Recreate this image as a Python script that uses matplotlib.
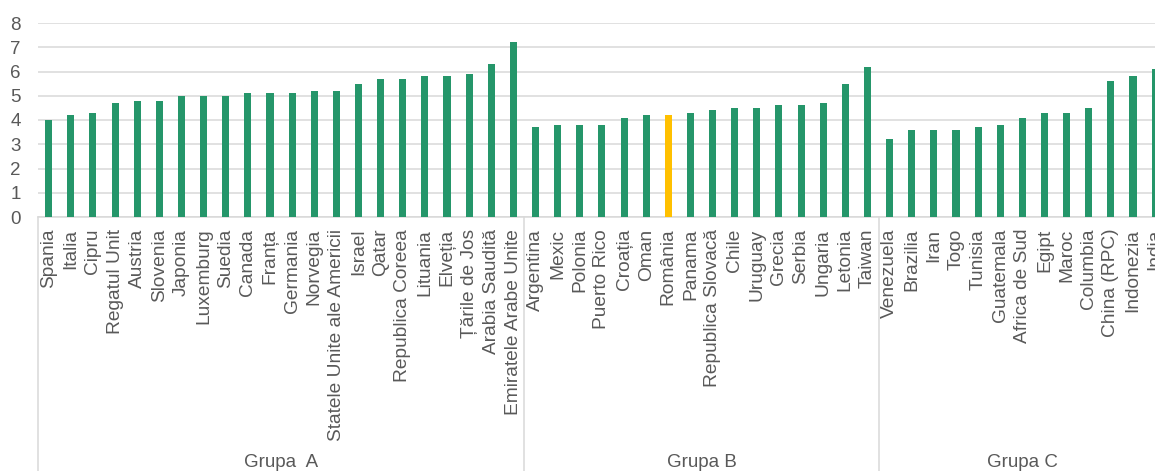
import matplotlib
matplotlib.use('Agg')
import matplotlib.pyplot as plt

plt.rcParams['font.family'] = ['Liberation Sans', 'DejaVu Sans']

grupa_a = ['Spania', 'Italia', 'Cipru', 'Regatul Unit', 'Austria', 'Slovenia', 'Japonia',
           'Luxemburg', 'Suedia', 'Canada', 'Franța', 'Germania', 'Norvegia',
           'Statele Unite ale Americii', 'Israel', 'Qatar', 'Republica Coreea', 'Lituania',
           'Elveția', 'Țările de Jos', 'Arabia Saudită', 'Emiratele Arabe Unite']
valori_a = [4.0, 4.2, 4.3, 4.7, 4.8, 4.8, 5.0, 5.0, 5.0, 5.1, 5.1, 5.1, 5.2, 5.2, 5.5,
            5.7, 5.7, 5.8, 5.8, 5.9, 6.3, 7.2]

grupa_b = ['Argentina', 'Mexic', 'Polonia', 'Puerto Rico', 'Croația', 'Oman', 'România',
           'Panama', 'Republica Slovacă', 'Chile', 'Uruguay', 'Grecia', 'Serbia', 'Ungaria',
           'Letonia', 'Taiwan']
valori_b = [3.7, 3.8, 3.8, 3.8, 4.1, 4.2, 4.2, 4.3, 4.4, 4.5, 4.5, 4.6, 4.6, 4.7, 5.5, 6.2]

grupa_c = ['Venezuela', 'Brazilia', 'Iran', 'Togo', 'Tunisia', 'Guatemala', 'Africa de Sud',
           'Egipt', 'Maroc', 'Columbia', 'China (RPC)', 'Indonezia', 'India']
valori_c = [3.2, 3.6, 3.6, 3.6, 3.7, 3.8, 4.1, 4.3, 4.3, 4.5, 5.6, 5.8, 6.1]

grupe = ['Grupa  A', 'Grupa B', 'Grupa C']
evidentiat = 'România'

tari = grupa_a + grupa_b + grupa_c
valori = valori_a + valori_b + valori_c
culori = ['#FFC000' if t == evidentiat else '#25966A' for t in tari]

W, H = 1155, 471
fig = plt.figure(figsize=(W / 100, H / 100), dpi=100)
# axa continua dincolo de marginea dreapta (imaginea e taiata, ca in original)
x0 = 37.6
pas = 22.13
ax = fig.add_axes([x0 / W, (H - 217) / H, (len(tari) * pas) / W, 194 / H])

x = list(range(len(tari)))
ax.bar(x, valori, width=0.32, color=culori, zorder=3)

ax.set_xlim(-0.5, len(tari) - 0.5)
ax.set_ylim(0, 8)
ax.set_yticks(range(0, 9))
ax.grid(axis='y', color='#D9D9D9', linewidth=1.1, zorder=0)
for s in ['top', 'right', 'left']:
    ax.spines[s].set_visible(False)
ax.spines['bottom'].set_color('#D9D9D9')
ax.spines['bottom'].set_linewidth(1.1)

ax.set_xticks(x)
ax.set_xticklabels(tari, rotation=90, fontsize=13.8, color='#595959')
ax.tick_params(axis='x', length=0, pad=8.5)
ax.tick_params(axis='y', length=0, pad=12, labelsize=13.5, labelcolor='#595959')

# separatoare si etichete de grupa
tr = ax.get_xaxis_transform()
marimi = [len(grupa_a), len(grupa_b), len(grupa_c)]
start = -0.5
ax.plot([start, start], [0, -1.6], transform=tr, color='#D9D9D9', lw=1.1, clip_on=False)
for nume, n in zip(grupe, marimi):
    sfarsit = start + n
    ax.plot([sfarsit, sfarsit], [0, -1.6], transform=tr, color='#D9D9D9', lw=1.1, clip_on=False)
    ax.text((start + sfarsit) / 2, -1.263, nume, transform=tr, ha='center', va='center',
            fontsize=13.5, color='#595959')
    start = sfarsit

fig.savefig('out.png', dpi=100)
